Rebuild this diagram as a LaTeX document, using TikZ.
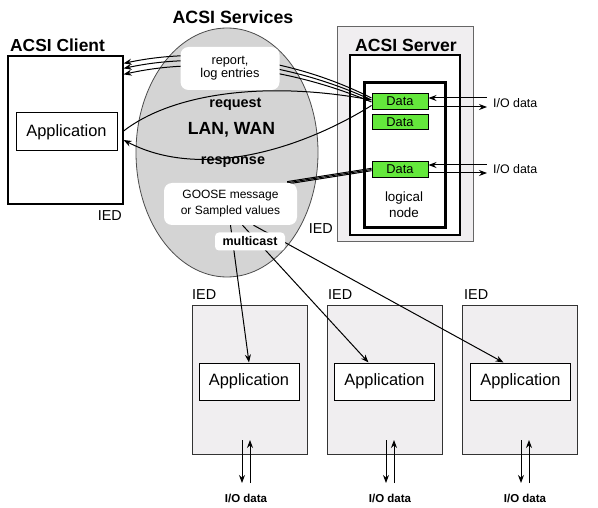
\documentclass[tikz,border=0pt]{standalone}
\usepackage{fontspec}
\setmainfont{Liberation Sans}
\usetikzlibrary{shapes.geometric,arrows.meta}
\pgfdeclarelayer{bg}
\pgfdeclarelayer{mid}
\pgfsetlayers{bg,mid,main}
\definecolor{langray}{RGB}{212,212,212}
\definecolor{iedgray}{RGB}{240,238,240}
\definecolor{datagreen}{RGB}{100,232,60}
\newcommand{\fsz}[2]{\fontsize{#1}{#2}\selectfont}
\tikzset{
	ied/.style={draw=black!80, fill=iedgray, line width=1pt, inner sep=0},
	app/.style={draw, fill=white, line width=1pt, minimum width=100pt, minimum height=37pt, font=\fsz{16.4}{18}},
	wbox/.style={fill=white, rounded corners=8pt, align=center, inner sep=0},
	dbox/.style={draw, fill=datagreen, line width=1pt, minimum width=56pt, minimum height=15.5pt, inner sep=0, font=\fsz{12.8}{14}},
	lbl/.style={inner sep=0},
	link/.style={line width=1pt},
}
\begin{document}
\begin{tikzpicture}[x=1pt, y=-1pt, >={Stealth[length=8pt,width=6pt]}]
	\useasboundingbox (0,0) rectangle (598,508);
	\begin{pgfonlayer}{bg}
		% LAN, WAN
		\node[draw=black!70, fill=langray, ellipse, line width=0.8pt, inner sep=0, minimum width=182pt, minimum height=249pt] (lan) at (227,152.5) {};
		% client
		\node[draw, fill=white, line width=1.2pt, minimum width=115pt, minimum height=148pt] (cli) at (65.5,130) {};
		% server
		\node[ied, draw=black!60, minimum width=136pt, minimum height=215pt] (srv) at (405,134.5) {};
		\node[draw, fill=white, line width=2pt, minimum width=110pt, minimum height=180pt] (srvin) at (405,145) {};
		\node[draw, fill=white, line width=3pt, minimum width=81pt, minimum height=145pt] (ln) at (404.5,155.5) {};
		% lower IEDs
		\foreach \i/\x in {1/249.5,2/385,3/520}
			\node[ied, minimum width=115pt, minimum height=148pt] (ied\i) at (\x,380) {};
	\end{pgfonlayer}

	\node[app, minimum width=101pt, minimum height=38pt] (app0) at (66.5,132) {Application};
	\foreach \n/\y in {1/101.5,2/122,3/169.5}
		\node[dbox] (data\n) at (400,\y) {Data};
	\foreach \i/\x in {1/249,2/384.5,3/520.5}
		\node[app] (app\i) at (\x,381.5) {Application};

	% white labels over the cloud
	\node[wbox, minimum width=99pt, minimum height=43pt, font=\fsz{12.8}{13}] (rep) at (230,68.5) {report,\\log entries};
	\node[wbox, minimum width=133pt, minimum height=42pt, font=\fsz{12}{16}] (goose) at (230.5,204) {GOOSE message\\or Sampled values};
	\node[wbox, rounded corners=4pt, minimum width=70pt, minimum height=18pt, font=\fsz{12.5}{14}\bfseries] (mc) at (250,241.5) {multicast};

	\begin{pgfonlayer}{mid}
		% report, log entries
		\foreach \dy/\cy/\c in {3.5/8/0,1.5/13/5,-0.5/19/10}
			\draw[link,->] ([yshift=\dy pt]data1.west) .. controls (300,62+\c) and (210,45+\c) .. ([yshift=-\cy pt]cli.north east);
		% request / response
		\draw[link,->] ([yshift=-1pt]cli.east) .. controls (170,95) and (260,80) .. ([yshift=1.5pt]data1.west);
		\draw[link,->] ([yshift=-4pt]data1.west) .. controls (300,150) and (200,180) .. ([yshift=-10pt]cli.east);
		% GOOSE
		\foreach \dy in {-1.2,0,1.2}
			\draw[link] ([yshift=\dy pt]data3.west) -- ([xshift=-10pt,yshift=\dy pt]goose.north east);
		\draw[link,->] (goose.south) -- (app1.north);
		\draw[link,->] ([xshift=12pt]goose.south) -- ([xshift=-16pt]app2.north);
		\draw[link,->] ([xshift=23pt]goose.south) -- ([xshift=-17pt]app3.north);
	\end{pgfonlayer}

	% titles
	\node[lbl, font=\fsz{17.8}{20}\bfseries] (tsvc) at (233,17) {ACSI Services};
	\node[lbl, font=\fsz{17.4}{20}\bfseries] (tcli) at (57.5,45) {ACSI Client};
	\node[lbl, font=\fsz{17.6}{20}\bfseries] (tsrv) at (406,45) {ACSI Server};
	\node[lbl, font=\fsz{14.4}{16}\bfseries] (treq) at (235.5,104) {request};
	\node[lbl, font=\fsz{17.6}{20}\bfseries] (tlan) at (231.5,130) {LAN, WAN};
	\node[lbl, font=\fsz{14.4}{16}\bfseries] (tres) at (233,162) {response};
	\node[lbl, align=center, font=\fsz{13.4}{16}] (tln) at (404,205) {logical\\node};
	\node[lbl, anchor=east, font=\fsz{14.4}{16}] (icli) at (122,216) {IED};
	\node[lbl, anchor=east, font=\fsz{14.4}{16}] (isrv) at (333,229) {IED};

	% server I/O
	\node[lbl, anchor=west, font=\fsz{12.4}{14}] (io1) at (493,103) {I/O data};
	\node[lbl, anchor=west, font=\fsz{12.4}{14}] (io3) at (493,169) {I/O data};
	\foreach \n/\a/\b in {1/3.5/-5.5,3/4.5/-3.5}{
		\draw[link,<-] ([yshift=\a pt]data\n.east) -- ([xshift=-6pt,yshift=\a pt]data\n.east -| io\n.west);
		\draw[link,->,shorten >=6pt] ([yshift=\b pt]data\n.east) -- ([yshift=\b pt]data\n.east -| io\n.west);
	}

	% lower IEDs
	\foreach \i/\x/\io in {1/192/242,2/328/386,3/464/521}{
		\node[lbl, anchor=west, font=\fsz{14.4}{16}] (lab\i) at (\x,295) {IED};
		\node[lbl, font=\fsz{11.5}{13}\bfseries] (iob\i) at (\io+4,498) {I/O data};
		\path (\io,440) coordinate (dn\i) (\io+8,483) coordinate (up\i);
		\draw[link,->] (dn\i) -- (dn\i |- up\i);
		\draw[link,->] (up\i) -- (up\i |- dn\i);
	}
\end{tikzpicture}
\end{document}
